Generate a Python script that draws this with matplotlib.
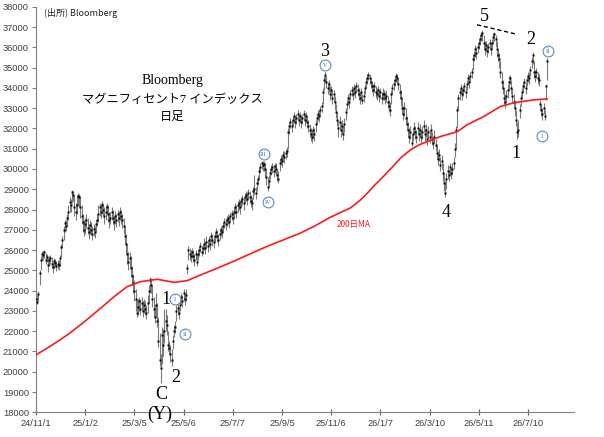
import numpy as np
import matplotlib
matplotlib.use("Agg")
import matplotlib.pyplot as plt

# daily bars (trading-day index 0 = 24/11/1)
close = [
    23600, 23450, 23850, 24850, 25500, 25800, 25750, 25900, 25500, 25650,
    25250, 25500, 25600, 25300, 25150, 25450, 25350, 25200, 25300, 25250,
    25600, 26150, 26500, 27000, 27350, 27200, 27600, 27900, 28350, 28200,
    28850, 28700, 28100, 27900, 28200, 28650, 28600, 28100, 27700, 27400,
    27000, 27300, 27500, 27100, 26900, 27250, 27000, 26800, 27050, 26900,
    27300, 27500, 27800, 28100, 27900, 28200, 28000, 27700, 27900, 28100,
    27800, 27500, 27600, 27900, 27600, 27400, 27700, 27500, 27800, 27600,
    27900, 27700, 27500, 27200, 26700, 26300, 25800, 25400, 25600, 25100,
    24700, 24400, 24000, 23600, 22900, 23200, 23500, 23100, 23400, 23000,
    23300, 23100, 22900, 23400, 24000, 24500, 24300, 23600, 23100, 22700,
    23300, 22500, 21500, 20600, 20200, 21800, 21300, 22000, 22500, 22300,
    21300, 21150, 20900, 20600, 21500, 22000, 22200, 23000, 23150, 22900,
    23300, 23700, 23500, 23900, 23600, 23800, 25100, 26000, 25800, 25700,
    25900, 25700, 25500, 25800, 25400, 25800, 26000, 26200, 25900, 26100,
    26300, 26100, 26400, 26200, 26500, 26300, 26700, 26500, 26400, 26700,
    26900, 26700, 26500, 26800, 27000, 26900, 27200, 27400, 27300, 27500,
    27600, 27400, 27700, 27800, 27600, 27900, 28100, 27900, 28200, 28300,
    28100, 28400, 28500, 28300, 28600, 28700, 28500, 28800, 28600, 28400,
    28300, 28900, 29000, 28800, 29300, 29500, 29900, 30100, 30300, 30200,
    30250, 30000, 29600, 29100, 29400, 29800, 30000, 30100, 29900, 30150,
    30000, 29700, 29500, 30300, 30500, 30400, 30700, 30600, 30800, 30900,
    31800, 32100, 32300, 32100, 32400, 32600, 32300, 32500, 32700, 32400,
    32600, 32300, 32500, 32700, 32400, 32600, 32300, 32100, 31900, 31700,
    31600, 31900, 31700, 32200, 32500, 32700, 32600, 32900, 33100, 33800,
    34400, 34650, 34300, 34000, 34200, 33700, 33900, 33500, 33700, 33300,
    32800, 32400, 32000, 32300, 31900, 32100, 31700, 32200, 32800, 33200,
    33500, 33300, 33700, 33900, 33700, 34000, 33800, 34100, 33900, 33700,
    33500, 33800, 33400, 33600, 34000, 34300, 34500, 34650, 34500, 34300,
    34100, 33900, 34100, 33800, 33700, 33900, 33600, 33800, 33500, 33700,
    33700, 33500, 33600, 33300, 33100, 32900, 33700, 34000, 34200, 34400,
    34600, 34500, 34200, 33800, 33500, 33000, 32700, 33000, 32500, 32200,
    31900, 31600, 31800, 31300, 31700, 32000, 31800, 31600, 32000, 31700,
    31900, 31600, 31800, 32100, 31700, 31900, 31500, 31800, 31600, 31900,
    31500, 31300, 31600, 31200, 30800, 30500, 30700, 30200, 30400, 29800,
    29300, 28800, 29500, 29900, 29700, 30100, 29800, 30000, 30300, 31000,
    31900, 32900, 33500, 33800, 34000, 33700, 33900, 34100, 33800, 34200,
    34500, 34300, 34600, 34800, 35400, 35600, 35900, 35700, 36000, 36200,
    36400, 36600, 36700, 36200, 35900, 36100, 35800, 36000, 36200, 35900,
    36200, 36500, 36650, 36400, 35900, 35600, 35400, 34800, 34300, 34000,
    33500, 33300, 33600, 33900, 34300, 34500, 34000, 33600, 33300, 33000,
    32400, 31800, 31900, 32900, 33500, 33800, 34100, 34300, 34000, 34400,
    34600, 34500, 34900, 35300, 35600, 34800, 34600, 34800, 34500, 34400,
    33200, 32900, 32700, 33000, 32600, 34100, 35300,
]
high = [
    23900, 23800, 24000, 25000, 25700, 25950, 25950, 26000, 25850, 25800,
    25600, 25700, 25750, 25650, 25400, 25600, 25550, 25450, 25500, 25500,
    25750, 26300, 26700, 27200, 27500, 27500, 27800, 28200, 28600, 28500,
    28950, 28900, 28700, 28300, 28700, 28800, 28750, 28650, 28200, 27800,
    27500, 27600, 27800, 27600, 27300, 27500, 27400, 27200, 27300, 27200,
    27500, 27800, 28200, 28300, 28250, 28400, 28300, 28100, 28200, 28300,
    28200, 27900, 27900, 28100, 28000, 27700, 27950, 27800, 28000, 27900,
    28100, 28000, 27800, 27600, 27200, 26800, 26300, 25900, 25900, 25700,
    25200, 24800, 24500, 24100, 23600, 23600, 23700, 23600, 23700, 23500,
    23600, 23500, 23300, 23800, 24300, 24650, 24600, 24300, 23700, 23300,
    23900, 23400, 22700, 21900, 20900, 22200, 22100, 23100, 23100, 22800,
    22000, 21500, 21300, 21100, 21800, 22300, 22500, 23300, 23400, 23200,
    23700, 23900, 23800, 24100, 23900, 24100, 25300, 26200, 26100, 26000,
    26100, 26000, 25800, 26000, 25800, 26000, 26200, 26400, 26200, 26300,
    26600, 26400, 26700, 26500, 26700, 26600, 26900, 26800, 26700, 26900,
    27100, 27000, 26800, 27100, 27200, 27200, 27400, 27600, 27600, 27700,
    27800, 27700, 27900, 28000, 27900, 28100, 28300, 28200, 28400, 28500,
    28400, 28600, 28700, 28600, 28800, 28900, 28800, 29000, 28900, 28700,
    28600, 29100, 29700, 29100, 29500, 29700, 30100, 30300, 30400, 30400,
    30400, 30300, 30000, 29600, 29700, 30000, 30200, 30300, 30200, 30300,
    30300, 30000, 29900, 30500, 30700, 30700, 30900, 30900, 31000, 31100,
    32000, 32300, 32500, 32400, 32600, 32800, 32600, 32700, 32900, 32700,
    32800, 32600, 32700, 32900, 32700, 32800, 32600, 32400, 32200, 32000,
    31900, 32100, 32000, 32400, 32700, 32900, 32900, 33100, 33300, 34000,
    34600, 34800, 34600, 34300, 34400, 34100, 34100, 33900, 33900, 33600,
    33200, 32800, 32400, 32600, 32300, 32400, 32100, 32500, 33000, 33400,
    33700, 33600, 33900, 34100, 34000, 34200, 34100, 34300, 34200, 34000,
    33800, 34000, 33700, 33900, 34200, 34500, 34700, 34800, 34700, 34500,
    34300, 34200, 34300, 34100, 34000, 34100, 33900, 34000, 33800, 34000,
    33900, 33800, 33900, 33600, 33400, 33300, 33900, 34200, 34400, 34600,
    34750, 34700, 34500, 34200, 33900, 33500, 33100, 33300, 33000, 32600,
    32300, 32000, 32100, 31700, 32000, 32300, 32100, 31900, 32300, 32000,
    32200, 31900, 32100, 32400, 32000, 32200, 31800, 32100, 31900, 32200,
    31800, 31600, 31900, 31500, 31200, 30900, 31000, 30600, 30700, 30300,
    29800, 29400, 29800, 30200, 30000, 30300, 30100, 30300, 30600, 31300,
    32100, 33100, 33700, 34000, 34200, 34000, 34100, 34300, 34100, 34400,
    34700, 34600, 34800, 35000, 35600, 35800, 36100, 36000, 36200, 36400,
    36600, 36750, 36850, 36600, 36300, 36300, 36100, 36200, 36400, 36200,
    36400, 36700, 36750, 36600, 36300, 35900, 35700, 35300, 34800, 34400,
    34000, 33700, 33900, 34200, 34600, 34650, 34400, 34000, 33700, 33400,
    32900, 32300, 32400, 33200, 33700, 34000, 34300, 34500, 34300, 34600,
    34800, 34800, 35100, 35500, 35750, 35300, 34900, 35000, 34800, 34700,
    33400, 33200, 33000, 33250, 32900, 34200, 35450,
]
low = [
    23300, 23350, 23500, 24300, 25000, 25450, 25500, 25600, 25300, 25400,
    24900, 25200, 25300, 25100, 24850, 25100, 25150, 24950, 25050, 25000,
    25200, 25650, 26100, 26500, 26900, 26950, 27200, 27500, 27900, 27900,
    28300, 28400, 27700, 27500, 27800, 28200, 28100, 27600, 27300, 26900,
    26700, 26800, 27100, 26800, 26550, 26800, 26750, 26500, 26700, 26600,
    26900, 27200, 27400, 27700, 27600, 27800, 27700, 27300, 27500, 27800,
    27400, 27100, 27300, 27500, 27300, 27000, 27300, 27150, 27400, 27200,
    27500, 27300, 27100, 26800, 26300, 25800, 25300, 25000, 25100, 24700,
    24300, 23900, 23500, 23000, 22700, 22800, 23000, 22800, 23000, 22700,
    22900, 22800, 22600, 22900, 23400, 23900, 23900, 23200, 22700, 22400,
    22700, 22200, 21200, 20300, 19450, 20400, 20800, 21400, 22000, 21800,
    21000, 20900, 20500, 20300, 21100, 21700, 21900, 22500, 22800, 22600,
    23000, 23300, 23200, 23500, 23300, 23500, 24800, 25500, 25500, 25400,
    25600, 25400, 25200, 25500, 25200, 25500, 25700, 25900, 25700, 25800,
    26000, 25800, 26100, 25900, 26200, 26000, 26400, 26200, 26100, 26400,
    26600, 26400, 26200, 26500, 26700, 26600, 26900, 27100, 27000, 27200,
    27300, 27100, 27400, 27500, 27300, 27600, 27800, 27600, 27900, 28000,
    27800, 28100, 28200, 28000, 28300, 28400, 28200, 28500, 28300, 28100,
    28000, 28500, 28700, 28500, 28900, 29200, 29500, 29800, 30000, 29900,
    29900, 29600, 29200, 28900, 29100, 29500, 29700, 29800, 29600, 29800,
    29700, 29400, 29300, 29900, 30200, 30100, 30400, 30300, 30500, 30600,
    31000, 31700, 32000, 31800, 32100, 32300, 32000, 32200, 32400, 32100,
    32300, 32000, 32200, 32400, 32100, 32300, 32000, 31800, 31600, 31400,
    31300, 31500, 31400, 31800, 32200, 32400, 32300, 32600, 32800, 33200,
    33900, 34300, 34000, 33700, 33800, 33400, 33600, 33200, 33300, 32900,
    32500, 32100, 31600, 31900, 31600, 31700, 31450, 31800, 32400, 32900,
    33200, 33000, 33400, 33600, 33400, 33700, 33500, 33800, 33600, 33400,
    33200, 33400, 33200, 33300, 33700, 34000, 34200, 34400, 34200, 34000,
    33800, 33600, 33800, 33500, 33400, 33600, 33300, 33500, 33200, 33400,
    33400, 33200, 33300, 33000, 32800, 32600, 33200, 33700, 33900, 34100,
    34300, 34200, 33900, 33500, 33100, 32700, 32400, 32600, 32200, 31900,
    31600, 31300, 31500, 31150, 31400, 31700, 31500, 31300, 31700, 31400,
    31600, 31300, 31500, 31800, 31400, 31600, 31200, 31500, 31300, 31600,
    31200, 31000, 31300, 30900, 30500, 30200, 30400, 29900, 30000, 29400,
    28900, 28600, 29000, 29500, 29400, 29700, 29500, 29700, 30000, 30600,
    31000, 32000, 32900, 33400, 33700, 33400, 33600, 33800, 33500, 33900,
    34200, 34000, 34300, 34500, 34900, 35300, 35500, 35400, 35700, 35900,
    36100, 36300, 36300, 35900, 35600, 35800, 35500, 35700, 35900, 35600,
    35900, 36200, 36300, 36000, 35500, 35300, 35000, 34500, 34000, 33700,
    33200, 33000, 33300, 33500, 33900, 34200, 33700, 33300, 33000, 32600,
    32100, 31500, 31600, 32500, 33100, 33500, 33800, 34000, 33700, 34100,
    34300, 34200, 34600, 35000, 35200, 34500, 34300, 34500, 34200, 34100,
    32900, 32600, 32400, 32700, 32400, 33400, 34400,
]

# 200-day moving average, sampled along the red line
ma_day = [0, 13, 26, 40, 54, 65, 76, 87, 101, 115, 126, 137, 150, 164, 178,
          192, 206, 220, 232, 244, 253, 262, 270, 276, 283, 289, 297, 304,
          312, 319, 326, 337, 351, 359, 366, 373, 380, 387, 398, 407, 414,
          420, 426]
ma_val = [20830, 21300, 21810, 22450, 23140, 23700, 24200, 24440, 24560,
          24410, 24490, 24770, 25080, 25430, 25800, 26170, 26500, 26830,
          27180, 27580, 27830, 28080, 28450, 28800, 29250, 29600, 30100,
          30550, 30940, 31180, 31350, 31600, 31840, 32170, 32380, 32580,
          32830, 33080, 33260, 33340, 33400, 33430, 33450]

tick_days = [0, 41, 82, 123, 164, 205, 246, 287, 328, 369, 410]
tick_labels = ["24/11/1", "25/1/2", "25/3/5", "25/5/6", "25/7/7", "25/9/5",
               "25/11/6", "26/1/7", "26/3/10", "26/5/11", "26/7/10"]

# Elliott wave annotations
wave_text = ["5", "3", "2", "1", "4", "1", "2", "C", "(Y)"]
wave_day = [373.6, 240.5, 412, 400, 341.7, 108.6, 116.7, 104.4, 103]
wave_val = [37500, 35790, 36400, 30740, 27850, 23540, 19730, 18900, 17900]

circ_text = ["v", "iii", "iv", "i", "ii", "ii", "i"]
circ_day = [240.5, 189.7, 193.3, 116, 124.4, 427, 422]
circ_val = [35130, 30730, 28390, 23590, 21860, 35840, 31630]

trend_day = [367.5, 399.4]
trend_val = [37110, 36660]

fig = plt.figure(figsize=(6.04, 4.37), dpi=100)
ax = fig.add_axes([0.0596, 0.0565, 0.8901, 0.9281])

x = np.arange(len(close))
ax.vlines(x, low, high, color="#7a7a7a", lw=0.8, zorder=2)
ax.plot(x, close, ls="none", marker="s", ms=1.4, mew=0, color="black", zorder=3)
ax.plot(ma_day, ma_val, color="#ff1a1a", lw=1.2, zorder=4)
ax.plot(trend_day, trend_val, color="black", lw=1.0, dashes=(3, 2), zorder=4)

ax.set_xlim(0, 448)
ax.set_ylim(18000, 38000)
ax.set_yticks(range(18000, 38001, 1000))
ax.set_xticks(tick_days)
ax.set_xticklabels(tick_labels)

for side in ["top", "right"]:
    ax.spines[side].set_visible(False)
for side in ["left", "bottom"]:
    ax.spines[side].set_color("#808080")
ax.tick_params(axis="y", direction="out", length=3, color="#808080",
               labelsize=6.7, labelcolor="#404040", pad=2)
ax.tick_params(axis="x", direction="inout", length=5, color="#606060",
               labelsize=6.7, labelcolor="#404040", pad=2)
for lab in ax.get_xticklabels() + ax.get_yticklabels():
    lab.set_family("Liberation Sans")

# title block, one line at a time
serif_jp = ["Liberation Serif", "Noto Sans CJK JP"]
ax.text(113.6, 34380, "Bloomberg", ha="center", va="center",
        fontsize=10, family=serif_jp)
ax.text(113.6, 33420, "マグニフィセント7 インデックス", ha="center",
        va="center", fontsize=8.8, family=serif_jp)
ax.text(113.6, 32560, "日足", ha="center", va="center", fontsize=8.8,
        family=serif_jp)

ax.text(6.8, 37670, "(出所) Bloomberg", ha="left", va="center",
        fontsize=6.5, family=["Noto Sans CJK JP", "DejaVu Sans"], color="#222222")
ax.text(264.7, 27240, "200日MA", ha="center", va="center", fontsize=6,
        color="#ff1a1a", family=["Noto Sans CJK JP", "DejaVu Sans"])

for t, d, v in zip(wave_text, wave_day, wave_val):
    ax.text(d, v, t, ha="center", va="center", fontsize=13,
            family="Liberation Serif", clip_on=False, zorder=5)

ax.plot(circ_day, circ_val, ls="none", marker="o", ms=7.8, mfc="white",
        mec="#5b8cc4", mew=0.8, zorder=5, clip_on=False)
for t, d, v in zip(circ_text, circ_day, circ_val):
    ax.text(d, v, t, ha="center", va="center", fontsize=5.8,
            family="Liberation Serif", color="#5b8cc4", zorder=6)

fig.savefig("out.png", dpi=100)
